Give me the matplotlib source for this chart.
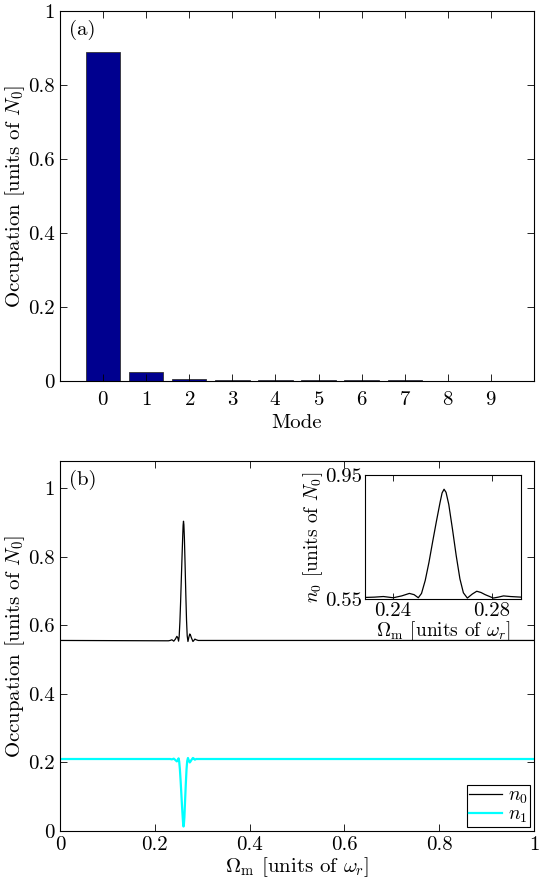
import numpy as np
import matplotlib
matplotlib.use('Agg')
import matplotlib.pyplot as plt

plt.rcParams['font.family'] = ['cmr10', 'DejaVu Serif']
plt.rcParams['mathtext.fontset'] = 'cm'
plt.rcParams['axes.formatter.use_mathtext'] = True
plt.rcParams['font.size'] = 15

# Panel (a): occupation of each mode
modes = [0, 1, 2, 3, 4, 5, 6, 7, 8, 9]
occupation = [0.89, 0.024, 0.005, 0.0035, 0.0025, 0.002, 0.0018, 0.0015, 0.0012, 0.001]

# Panel (b): n0 and n1 versus modulation frequency
omega = [0.0, 0.2287, 0.2325, 0.2361, 0.2401, 0.2435, 0.2466, 0.2485, 0.2502,
         0.2515, 0.2530, 0.2545, 0.2560, 0.2575, 0.2590, 0.2598, 0.2606,
         0.2614, 0.2625, 0.2640, 0.2655, 0.2670, 0.2684, 0.2700, 0.2720,
         0.2738, 0.2755, 0.2772, 0.2805, 0.2825, 0.2846, 0.2873, 0.2917, 1.0]
n0 = [0.556, 0.555, 0.556, 0.558, 0.554, 0.560, 0.568, 0.564, 0.554,
      0.568, 0.610, 0.668, 0.735, 0.800, 0.862, 0.892, 0.904,
      0.894, 0.855, 0.775, 0.690, 0.615, 0.570, 0.553, 0.566,
      0.575, 0.571, 0.564, 0.553, 0.556, 0.560, 0.558, 0.556, 0.556]
n1 = [0.210, 0.210, 0.210, 0.209, 0.211, 0.207, 0.203, 0.206, 0.212,
      0.203, 0.180, 0.147, 0.110, 0.072, 0.038, 0.022, 0.013,
      0.019, 0.040, 0.090, 0.138, 0.180, 0.204, 0.213, 0.205,
      0.200, 0.203, 0.207, 0.213, 0.211, 0.208, 0.210, 0.210, 0.210]

fig = plt.figure(figsize=(5.4, 8.84), dpi=100)

# ---- (a)
ax1 = fig.add_axes([0.111, 0.569, 0.878, 0.4186])
ax1.bar(modes, occupation, width=0.8, color='#00008f', edgecolor='#333333', linewidth=0.6)
ax1.set_xlim(-1, 10)
ax1.set_ylim(0, 1)
ax1.set_xticks(modes)
ax1.set_yticks([0, 0.2, 0.4, 0.6, 0.8, 1])
ax1.set_yticklabels(['0', '0.2', '0.4', '0.6', '0.8', '1'])
ax1.set_xlabel('Mode', labelpad=4)
ax1.set_ylabel('Occupation [units of $N_0$]', labelpad=1)
ax1.tick_params(direction='in', top=True, right=True, length=5, width=0.6)
ax1.tick_params(axis='x', pad=7)
ax1.text(0.02, 0.975, '(a)', transform=ax1.transAxes, va='top', ha='left')

# ---- (b)
ax2 = fig.add_axes([0.111, 0.060, 0.878, 0.4186])
ax2.plot(omega, n0, color='black', lw=0.9, label='$n_0$')
ax2.plot(omega, n1, color='cyan', lw=1.6, label='$n_1$')
ax2.set_xlim(0, 1)
ax2.set_ylim(0, 1.08)
ax2.set_xticks([0, 0.2, 0.4, 0.6, 0.8, 1])
ax2.set_xticklabels(['0', '0.2', '0.4', '0.6', '0.8', '1'])
ax2.set_yticks([0, 0.2, 0.4, 0.6, 0.8, 1])
ax2.set_yticklabels(['0', '0.2', '0.4', '0.6', '0.8', '1'])
ax2.set_xlabel(r'$\Omega_\mathrm{m}$ [units of $\omega_r$]', labelpad=1)
ax2.set_ylabel('Occupation [units of $N_0$]', labelpad=1)
ax2.tick_params(direction='in', top=True, right=True, length=5, width=0.6)
ax2.text(0.02, 0.975, '(b)', transform=ax2.transAxes, va='top', ha='left')
leg = ax2.legend(loc='lower right', fancybox=False, edgecolor='black',
                 framealpha=1, borderpad=0.1, handlelength=1.7,
                 handletextpad=0.3, labelspacing=0.0, borderaxespad=0.2,
                 fontsize=14)
leg.get_frame().set_linewidth(0.8)

# ---- inset
ax3 = fig.add_axes([0.676, 0.3224, 0.289, 0.1403])
ax3.plot(omega, n0, color='black', lw=0.9)
ax3.set_xlim(0.2287, 0.2917)
ax3.set_ylim(0.55, 0.95)
ax3.set_xticks([0.24, 0.28])
ax3.set_xticklabels(['0.24', '0.28'])
ax3.set_yticks([0.55, 0.95])
ax3.set_yticklabels(['0.55', '0.95'])
ax3.set_xlabel(r'$\Omega_\mathrm{m}$ [units of $\omega_r$]', labelpad=0, fontsize=14)
ax3.set_ylabel('$n_0$ [units of $N_0$]', labelpad=0, fontsize=14)
ax3.tick_params(direction='in', top=True, right=True, length=4, width=0.6, pad=2)

fig.savefig('out.png', dpi=100)
